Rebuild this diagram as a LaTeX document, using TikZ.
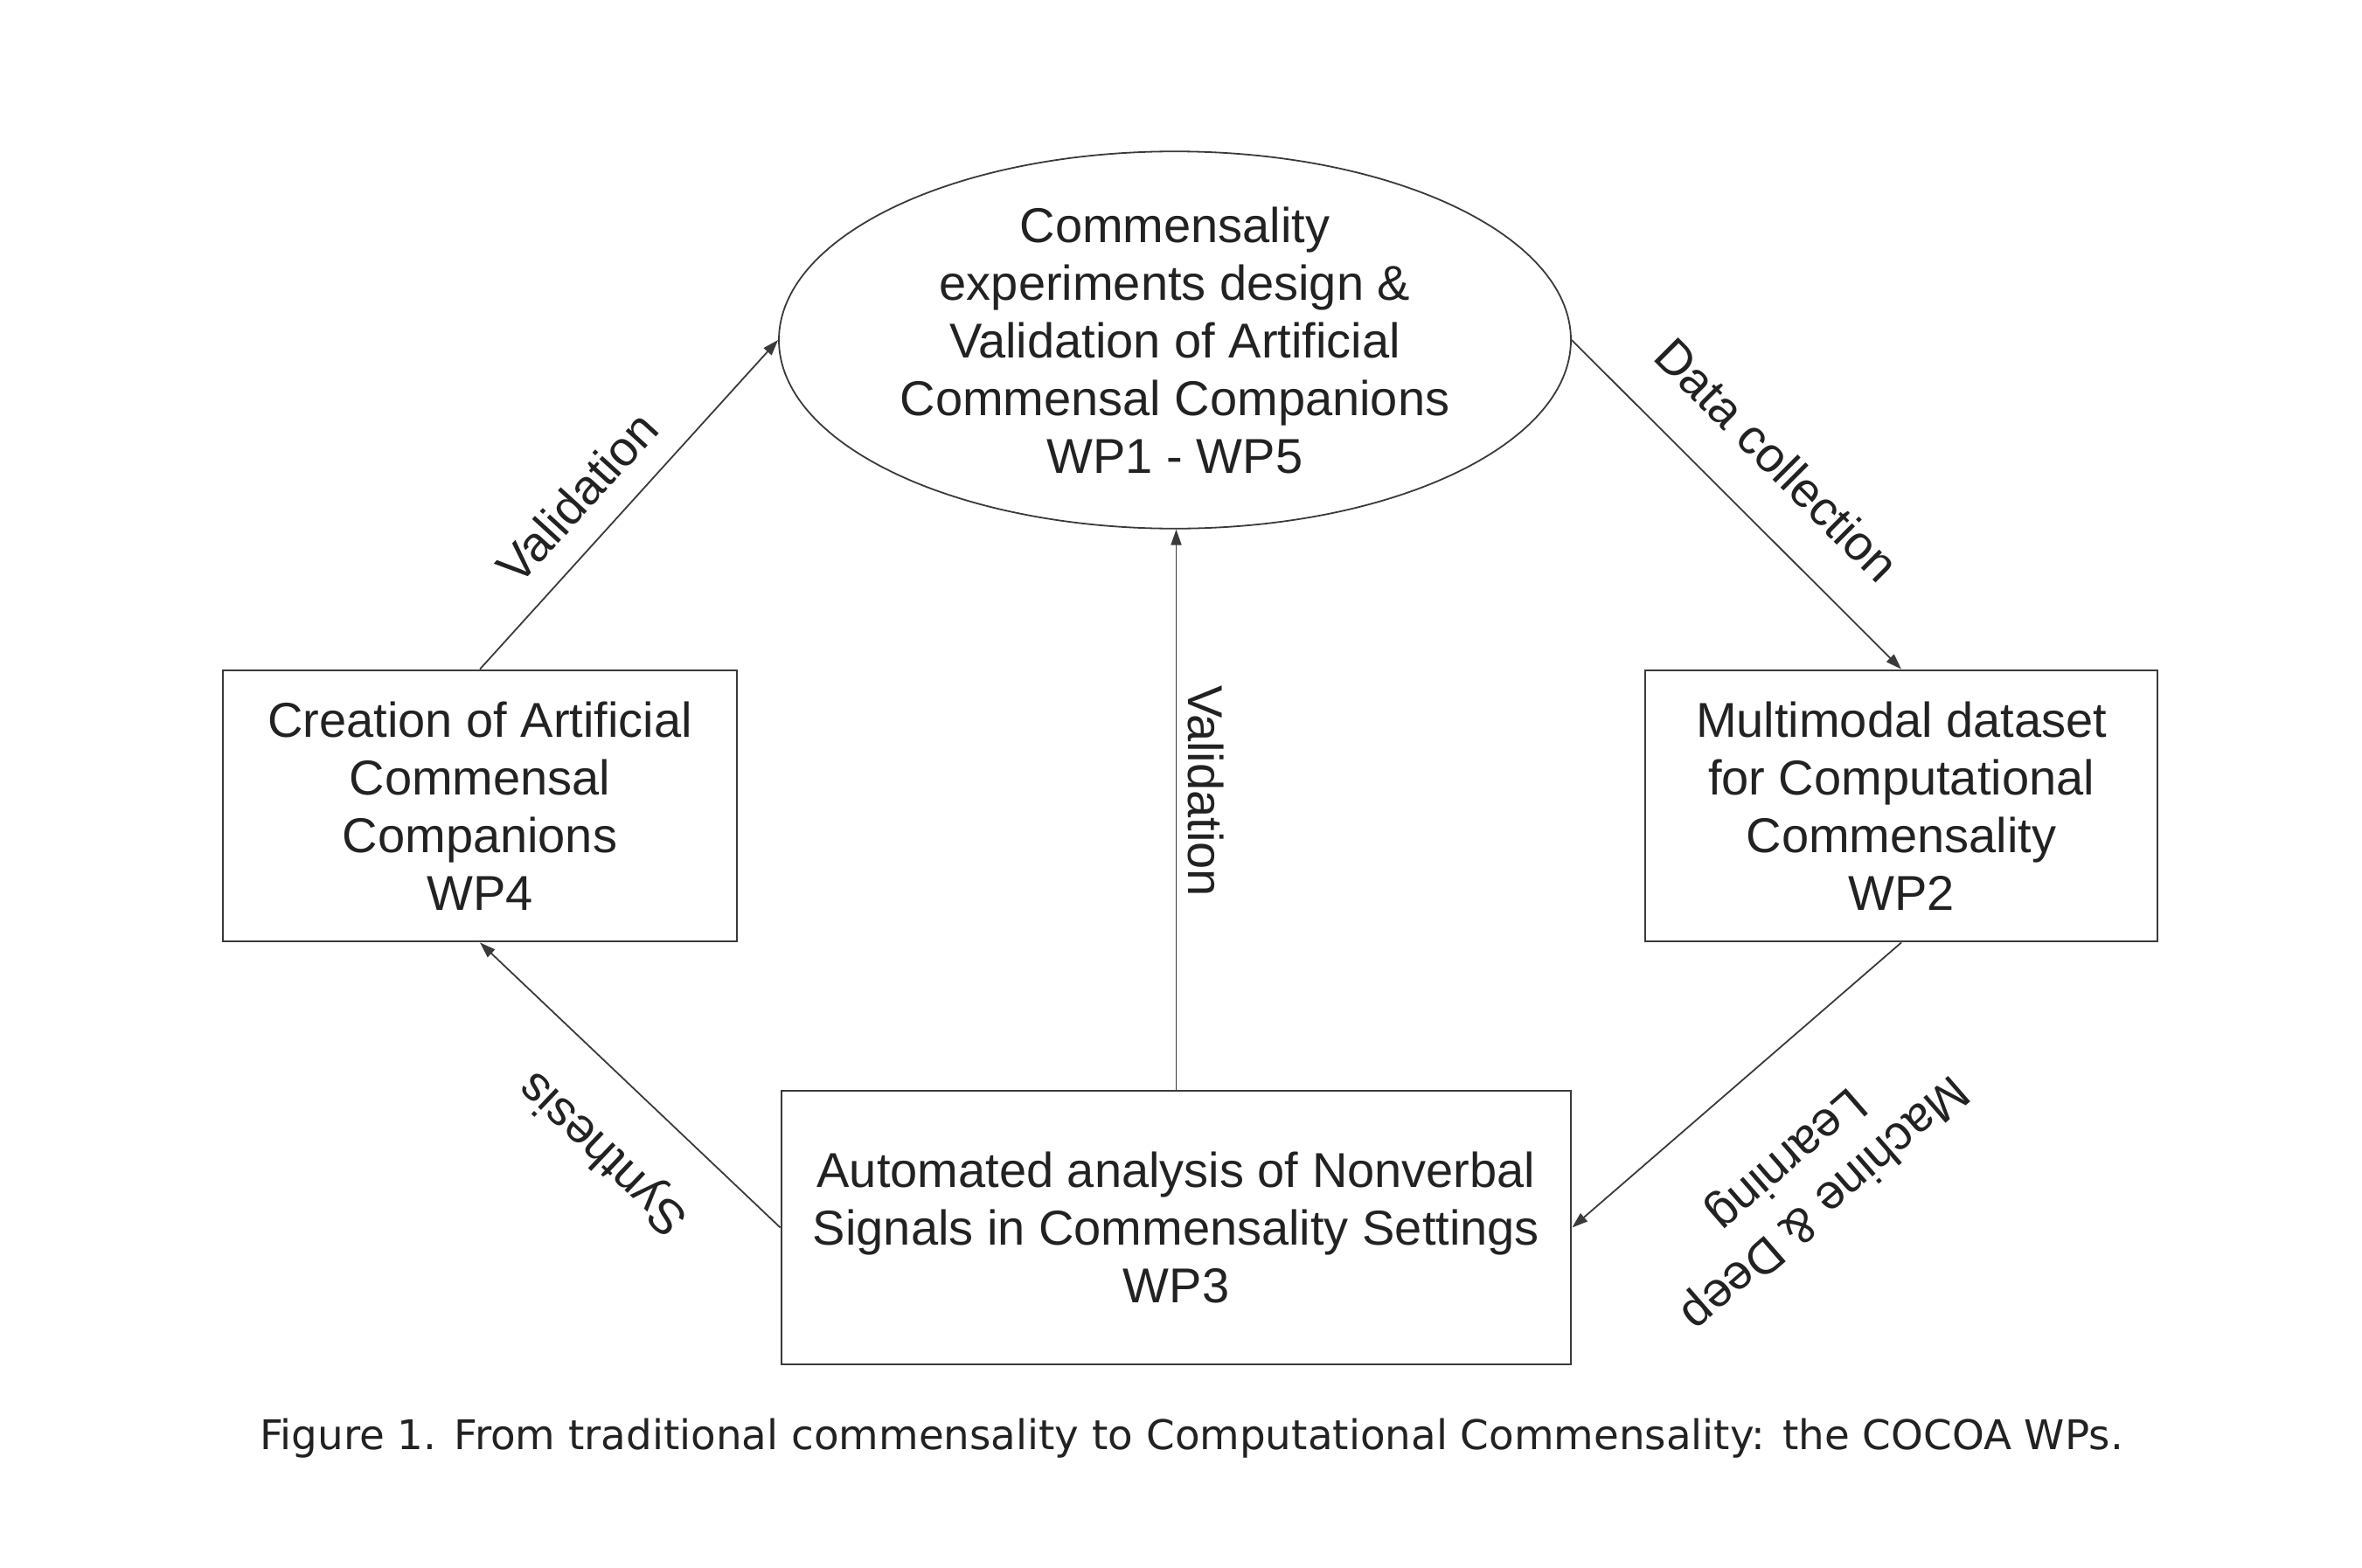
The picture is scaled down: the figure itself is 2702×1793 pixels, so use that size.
\documentclass[tikz,border=0pt]{standalone}
\usepackage{fontspec}
\setmainfont{Liberation Sans}
\newfontfamily\capfont{DejaVu Sans}
\usetikzlibrary{shapes.geometric,arrows.meta}
\definecolor{ink}{HTML}{222222}
\definecolor{edge}{HTML}{3A3A3A}
\tikzset{
  every node/.style={text=ink, font=\fontsize{28}{33}\selectfont},
  wpbox/.style={draw=edge, line width=1.4pt, rectangle, inner sep=0pt, align=center},
  wpell/.style={draw=edge, line width=0.9pt, ellipse, inner sep=0pt, align=center,
    minimum width=453pt, minimum height=207pt},
  arr/.style={draw=edge, line width=0.9pt, -{Triangle[length=9pt,width=6pt]}},
  lbl/.style={align=center, inner sep=0pt},
}
\begin{document}
\begin{tikzpicture}[x=0.5pt,y=-0.5pt]
\useasboundingbox (0,0) rectangle (2702,1793);
\node[wpell] (E) at (1344,389) {Commensality\\experiments design \&\\Validation of Artificial\\Commensal Companions\\WP1 - WP5};
\node[wpbox, minimum width=294pt, minimum height=155pt] (L) at (549,922) {Creation of Artificial\\Commensal\\Companions\\WP4};
\node[wpbox, minimum width=293pt, minimum height=155pt] (R) at (2175,922) {Multimodal dataset\\for Computational\\Commensality\\WP2};
\node[wpbox, minimum width=451.5pt, minimum height=156.5pt] (B) at (1345.5,1404.5) {Automated analysis of Nonverbal\\Signals in Commensality Settings\\WP3};

\draw[arr] (L.north) -- (E.west);
\draw[arr] (E.east) -- (R.north);
\draw[arr] (R.south) -- (B.east);
\draw[arr] (B.west) -- (L.south);
\draw[arr] (B.north) -- (B.north |- E.south);

\node[lbl, rotate=47.6] (l1) at (660,569) {Validation};
\node[lbl, rotate=-45] (l2) at (2033,526) {Data collection};
\node[lbl, rotate=-90] (l3) at (1379,905) {Validation};
\node[lbl, rotate=136.5] (l4) at (691,1318) {Synthesis};
\node[lbl, rotate=-139] (l5) at (2064,1350) {Machine \& Deep\\Learning};

\node[inner sep=0pt, font=\capfont\fontsize{23.4}{28}\selectfont, text=ink] (cap) at (1363,1646) {Figure 1. From traditional commensality to Computational Commensality: the COCOA WPs.};
\end{tikzpicture}
\end{document}
